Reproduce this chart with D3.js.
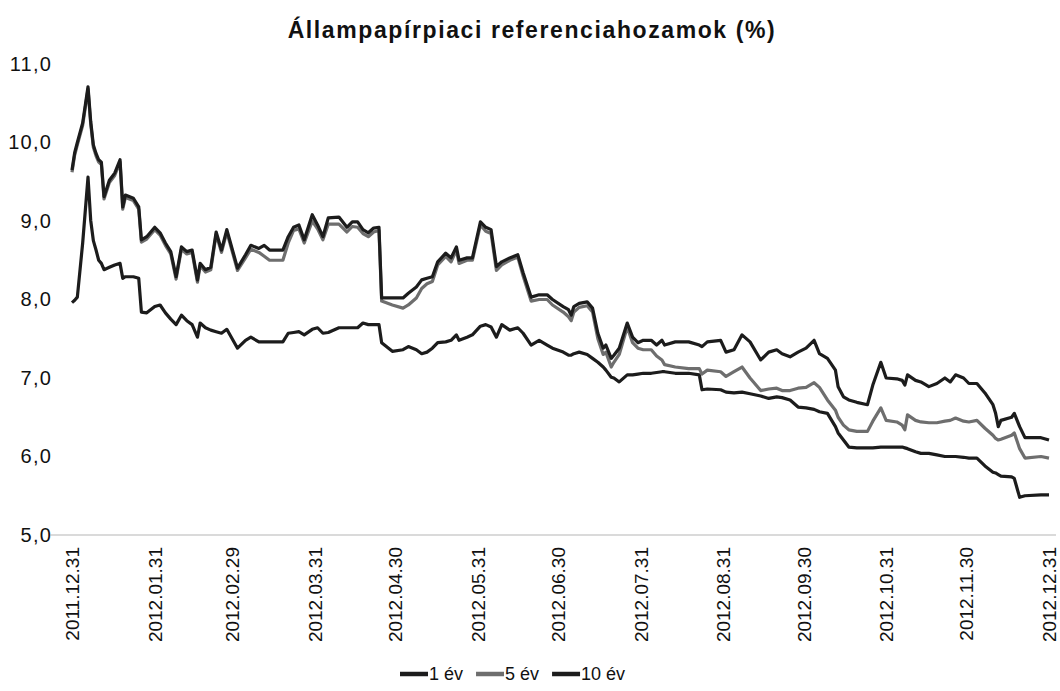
<!DOCTYPE html>
<html>
<head>
<meta charset="utf-8">
<script src="https://cdn.jsdelivr.net/npm/d3@7"></script>
<style>
  body { margin: 0; background: #fff; }
  text { font-family: Arial, "Liberation Sans", sans-serif; fill: #111; }
</style>
</head>
<body>
<script>
// dates shared by the three series (reading points off the picture)
var dates = [
  "2011-12-31","2012-01-01","2012-01-02","2012-01-04","2012-01-06","2012-01-07","2012-01-08","2012-01-09","2012-01-10","2012-01-11",
  "2012-01-12","2012-01-14","2012-01-16","2012-01-18","2012-01-19","2012-01-20","2012-01-23","2012-01-25","2012-01-26","2012-01-28",
  "2012-01-31","2012-02-02","2012-02-04","2012-02-06","2012-02-08","2012-02-10","2012-02-12","2012-02-14","2012-02-16","2012-02-17",
  "2012-02-19","2012-02-21","2012-02-23","2012-02-25","2012-02-27","2012-03-02","2012-03-05","2012-03-07","2012-03-10","2012-03-12",
  "2012-03-14","2012-03-19","2012-03-21","2012-03-23","2012-03-25","2012-03-27","2012-03-30","2012-04-01","2012-04-03","2012-04-05",
  "2012-04-09","2012-04-12","2012-04-14","2012-04-16","2012-04-18","2012-04-20","2012-04-22","2012-04-24","2012-04-25","2012-04-29",
  "2012-05-03","2012-05-05","2012-05-08","2012-05-10","2012-05-12","2012-05-14","2012-05-16","2012-05-19","2012-05-21","2012-05-23",
  "2012-05-24","2012-05-27","2012-05-29","2012-06-01","2012-06-03","2012-06-05","2012-06-07","2012-06-09","2012-06-12","2012-06-15",
  "2012-06-17","2012-06-20","2012-06-23","2012-06-26","2012-06-28","2012-07-02","2012-07-04","2012-07-05","2012-07-06","2012-07-08",
  "2012-07-11","2012-07-13","2012-07-15","2012-07-17","2012-07-18","2012-07-20","2012-07-21","2012-07-23","2012-07-26","2012-07-28",
  "2012-07-30","2012-08-01","2012-08-04","2012-08-06","2012-08-08","2012-08-09","2012-08-13","2012-08-18","2012-08-22","2012-08-23",
  "2012-08-25","2012-08-30","2012-09-01","2012-09-04","2012-09-07","2012-09-10","2012-09-14","2012-09-17","2012-09-20","2012-09-22",
  "2012-09-25","2012-09-28","2012-10-01","2012-10-04","2012-10-06","2012-10-09","2012-10-12","2012-10-13","2012-10-15","2012-10-17",
  "2012-10-20","2012-10-24","2012-10-26","2012-10-29","2012-10-31","2012-11-04","2012-11-06","2012-11-07","2012-11-08","2012-11-11",
  "2012-11-13","2012-11-16","2012-11-19","2012-11-22","2012-11-24","2012-11-26","2012-11-29","2012-12-01","2012-12-04","2012-12-07",
  "2012-12-10","2012-12-11","2012-12-12","2012-12-13","2012-12-17","2012-12-18","2012-12-20","2012-12-22","2012-12-28","2012-12-31"
];

var ev1 = [
  7.96,7.99,8.03,8.72,9.56,9.01,8.75,8.63,8.50,8.46,
  8.38,8.41,8.44,8.46,8.27,8.29,8.29,8.27,7.84,7.83,
  7.91,7.93,7.83,7.75,7.68,7.80,7.73,7.68,7.52,7.70,
  7.64,7.61,7.59,7.57,7.62,7.38,7.48,7.52,7.46,7.46,
  7.46,7.46,7.57,7.58,7.59,7.55,7.62,7.64,7.57,7.58,
  7.64,7.64,7.64,7.64,7.70,7.68,7.68,7.68,7.45,7.34,
  7.36,7.40,7.36,7.31,7.33,7.38,7.45,7.46,7.48,7.55,
  7.48,7.52,7.55,7.66,7.68,7.65,7.52,7.68,7.61,7.64,
  7.57,7.42,7.48,7.42,7.38,7.33,7.29,7.29,7.31,7.33,
  7.30,7.25,7.20,7.14,7.10,7.01,7.00,6.95,7.04,7.04,
  7.05,7.06,7.06,7.07,7.08,7.08,7.06,7.06,7.04,6.85,
  6.86,6.85,6.82,6.81,6.82,6.80,6.77,6.74,6.76,6.75,
  6.72,6.63,6.62,6.60,6.57,6.55,6.38,6.30,6.21,6.12,
  6.11,6.11,6.11,6.12,6.12,6.12,6.12,6.11,6.10,6.06,
  6.04,6.04,6.02,6.00,6.00,6.00,5.99,5.98,5.98,5.88,
  5.80,5.79,5.77,5.75,5.74,5.72,5.48,5.50,5.51,5.51
];

var ev5 = [
  9.62,9.84,9.97,10.22,10.68,10.24,9.94,9.83,9.75,9.72,
  9.28,9.49,9.58,9.75,9.15,9.30,9.26,9.15,8.73,8.77,
  8.89,8.82,8.69,8.58,8.26,8.64,8.58,8.60,8.22,8.43,
  8.35,8.38,8.83,8.60,8.86,8.37,8.53,8.64,8.60,8.55,
  8.50,8.50,8.72,8.88,8.90,8.72,9.00,8.90,8.76,8.96,
  8.96,8.86,8.93,8.92,8.84,8.80,8.86,8.88,7.98,7.93,
  7.89,7.93,8.02,8.14,8.20,8.23,8.44,8.55,8.48,8.63,
  8.46,8.50,8.50,8.95,8.87,8.84,8.37,8.44,8.50,8.54,
  8.30,7.98,8.00,8.00,7.93,7.84,7.78,7.73,7.84,7.90,
  7.92,7.84,7.50,7.30,7.33,7.14,7.20,7.30,7.65,7.45,
  7.38,7.36,7.36,7.28,7.23,7.17,7.14,7.12,7.12,7.05,
  7.10,7.08,7.02,7.08,7.14,7.00,6.84,6.86,6.87,6.84,
  6.84,6.87,6.88,6.94,6.88,6.72,6.59,6.50,6.40,6.34,
  6.32,6.32,6.45,6.62,6.46,6.44,6.40,6.34,6.53,6.46,
  6.44,6.43,6.43,6.45,6.46,6.49,6.45,6.44,6.46,6.36,
  6.27,6.23,6.21,6.22,6.27,6.30,6.10,5.98,6.00,5.98
];

var ev10 = [
  9.65,9.87,10.0,10.25,10.71,10.27,9.97,9.86,9.78,9.75,
  9.31,9.52,9.61,9.78,9.18,9.33,9.29,9.18,8.76,8.80,
  8.92,8.85,8.72,8.61,8.29,8.67,8.61,8.63,8.25,8.46,
  8.38,8.41,8.86,8.63,8.89,8.40,8.57,8.69,8.65,8.69,
  8.63,8.63,8.80,8.92,8.95,8.76,9.08,8.95,8.80,9.04,
  9.05,8.92,8.99,8.99,8.89,8.85,8.91,8.92,8.02,8.02,
  8.02,8.08,8.16,8.25,8.27,8.29,8.48,8.59,8.53,8.67,
  8.50,8.53,8.53,8.99,8.92,8.89,8.42,8.48,8.53,8.57,
  8.34,8.03,8.06,8.06,8.00,7.91,7.87,7.80,7.91,7.95,
  7.97,7.89,7.57,7.38,7.42,7.25,7.29,7.38,7.70,7.52,
  7.45,7.48,7.48,7.42,7.48,7.42,7.46,7.46,7.42,7.40,
  7.46,7.48,7.33,7.36,7.55,7.46,7.23,7.33,7.36,7.31,
  7.27,7.33,7.38,7.48,7.31,7.25,7.10,6.89,6.76,6.72,
  6.69,6.66,6.91,7.20,7.00,6.99,6.97,6.91,7.04,6.97,
  6.95,6.89,6.93,7.00,6.95,7.04,7.00,6.93,6.93,6.81,
  6.66,6.55,6.38,6.46,6.50,6.55,6.38,6.24,6.24,6.21
];

var seriesNames = ["1 év", "5 év", "10 év"];
var seriesColors = ["#1c1c1c", "#6e6e6e", "#1c1c1c"];
var tickDates = ["2011-12-31","2012-01-31","2012-02-29","2012-03-31","2012-04-30","2012-05-31","2012-06-30",
                 "2012-07-31","2012-08-31","2012-09-30","2012-10-31","2012-11-30","2012-12-31"];
var yTicks = [5, 6, 7, 8, 9, 10, 11];

var parse = d3.timeParse("%Y-%m-%d");
var fmtDate = d3.timeFormat("%Y.%m.%d");

var width = 1060, height = 691;
var svg = d3.select("body").append("svg")
    .attr("width", width)
    .attr("height", height);

var x = d3.scaleTime()
    .domain([parse("2011-12-31"), parse("2012-12-31")])
    .range([72, 1049]);

var y = d3.scaleLinear()
    .domain([5, 11])
    .range([535, 64]);

// title
svg.append("text")
    .attr("x", 532)
    .attr("y", 38)
    .attr("text-anchor", "middle")
    .style("font-size", "23px")
    .style("font-weight", "bold")
    .style("letter-spacing", "1.6px")
    .text("Állampapírpiaci referenciahozamok (%)");

// y axis, labels only
var yAxis = svg.append("g")
    .attr("transform", "translate(72,0)")
    .call(d3.axisLeft(y).tickValues(yTicks).tickSize(0).tickPadding(20)
        .tickFormat(d => d3.format(".1f")(d).replace(".", ",")));
yAxis.select(".domain").remove();
yAxis.selectAll("text")
    .style("font-size", "20px")
    .style("letter-spacing", "1.2px")
    .attr("fill", "#111");

// baseline at 5,0
svg.append("line")
    .attr("x1", 50).attr("x2", 1056)
    .attr("y1", y(5)).attr("y2", y(5))
    .attr("stroke", "#b5b5b5")
    .attr("stroke-width", 1.2);

// x axis, rotated date labels
var xAxis = svg.append("g")
    .attr("transform", "translate(0," + y(5) + ")")
    .call(d3.axisBottom(x).tickValues(tickDates.map(parse)).tickSize(0).tickFormat(fmtDate));
xAxis.select(".domain").remove();
xAxis.selectAll("text")
    .attr("y", 0)
    .attr("dy", "0.35em")
    .attr("transform", "translate(0,12) rotate(-90)")
    .attr("text-anchor", "end")
    .style("font-size", "19px")
    .attr("fill", "#111");

// lines
var allSeries = [ev1, ev5, ev10];
var line = d3.line()
    .x((d, i) => x(parse(dates[i])))
    .y(d => y(d));

svg.selectAll(".series")
    .data(allSeries)
    .join("path")
    .attr("class", "series")
    .attr("fill", "none")
    .attr("stroke", (d, i) => seriesColors[i])
    .attr("stroke-width", 3.2)
    .attr("stroke-linejoin", "round")
    .attr("d", line);

// legend
var legend = svg.append("g").attr("transform", "translate(0,674)");
var lx = 400;
seriesNames.forEach(function(name, i) {
    var g = legend.append("g").attr("transform", "translate(" + lx + ",0)");
    g.append("line")
        .attr("x1", 0).attr("x2", 28)
        .attr("y1", 0).attr("y2", 0)
        .attr("stroke", seriesColors[i])
        .attr("stroke-width", 4.5);
    var t = g.append("text")
        .attr("x", 29)
        .attr("y", 0)
        .attr("dy", "0.35em")
        .style("font-size", "18px")
        .text(name);
    lx += 29 + t.node().getComputedTextLength() + 13;
});
</script>
</body>
</html>
